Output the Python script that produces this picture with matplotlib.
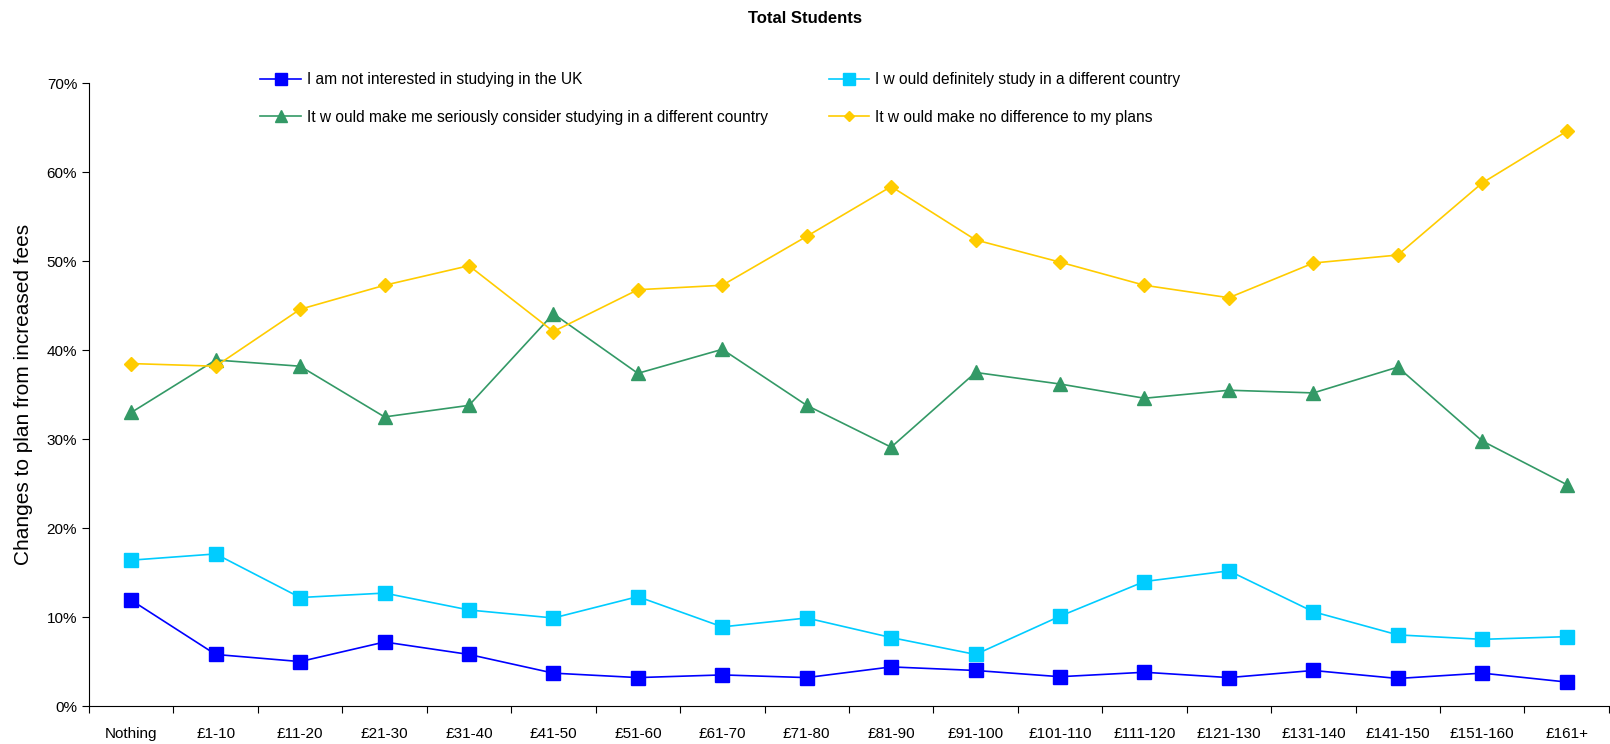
import matplotlib
matplotlib.use('Agg')
import matplotlib.pyplot as plt
from matplotlib.ticker import FixedLocator, FuncFormatter

plt.rcParams['font.family'] = ['Liberation Sans', 'DejaVu Sans']

categories = ['Nothing', '£1-10', '£11-20', '£21-30', '£31-40', '£41-50', '£51-60',
              '£61-70', '£71-80', '£81-90', '£91-100', '£101-110', '£111-120',
              '£121-130', '£131-140', '£141-150', '£151-160', '£161+']

not_interested = [11.9, 5.8, 5.0, 7.2, 5.8, 3.7, 3.2, 3.5, 3.2, 4.4, 4.0, 3.3, 3.8,
                  3.2, 4.0, 3.1, 3.7, 2.7]
definitely_other = [16.4, 17.1, 12.2, 12.7, 10.8, 9.9, 12.3, 8.9, 9.9, 7.7, 5.8, 10.1,
                    14.0, 15.2, 10.6, 8.0, 7.5, 7.8]
seriously_consider = [33.0, 38.9, 38.2, 32.5, 33.8, 44.1, 37.4, 40.1, 33.8, 29.1, 37.5,
                      36.2, 34.6, 35.5, 35.2, 38.1, 29.8, 24.9]
no_difference = [38.5, 38.2, 44.6, 47.3, 49.5, 42.1, 46.8, 47.3, 52.8, 58.4, 52.4, 49.9,
                 47.3, 45.9, 49.8, 50.7, 58.8, 64.6]

fig = plt.figure(figsize=(16.1, 7.44), dpi=100)
ax = fig.add_axes([0.0553, 0.051, 0.944, 0.837])

x = range(len(categories))
h1, = ax.plot(x, not_interested, color='#0000FF', lw=1.2, marker='s', ms=10,
              label='I am not interested in studying in the UK')
h3, = ax.plot(x, definitely_other, color='#00CCFF', lw=1.2, marker='s', ms=10,
              label='I w ould definitely study in a different country')
h2, = ax.plot(x, seriously_consider, color='#339966', lw=1.2, marker='^', ms=10,
              label='It w ould make me seriously consider studying in a different country')
h4, = ax.plot(x, no_difference, color='#FFCC00', lw=1.2, marker='D', ms=7,
              label='It w ould make no difference to my plans')

ax.set_xlim(-0.5, len(categories) - 0.5)
ax.set_ylim(0, 70)
ax.set_yticks(range(0, 71, 10))
ax.yaxis.set_major_formatter(FuncFormatter(lambda v, p: f'{v:.0f}%'))

ax.xaxis.set_major_locator(FixedLocator([i - 0.5 for i in range(len(categories) + 1)]))
ax.xaxis.set_major_formatter(FuncFormatter(lambda v, p: ''))
ax.xaxis.set_minor_locator(FixedLocator(list(x)))
ax.set_xticklabels(categories, minor=True)
ax.tick_params(axis='x', which='minor', length=0, pad=15, labelsize=11)
ax.tick_params(axis='x', which='major', length=5, direction='out')
ax.tick_params(axis='y', length=5, labelsize=11)

for s in ['top', 'right']:
    ax.spines[s].set_visible(False)

ax.set_ylabel('Changes to plan from increased fees', fontsize=15, labelpad=10)
fig.suptitle('Total Students', fontsize=12, fontweight='bold', y=0.985)

fig.legend(handles=[h1, h2, h3, h4], loc='upper left', bbox_to_anchor=(0.153, 0.922),
           ncol=2, frameon=False, fontsize=11.2, handlelength=2.6, columnspacing=3.9,
           labelspacing=1.45, handletextpad=0.4, markerscale=0.8)

fig.savefig('out.png', dpi=100)
